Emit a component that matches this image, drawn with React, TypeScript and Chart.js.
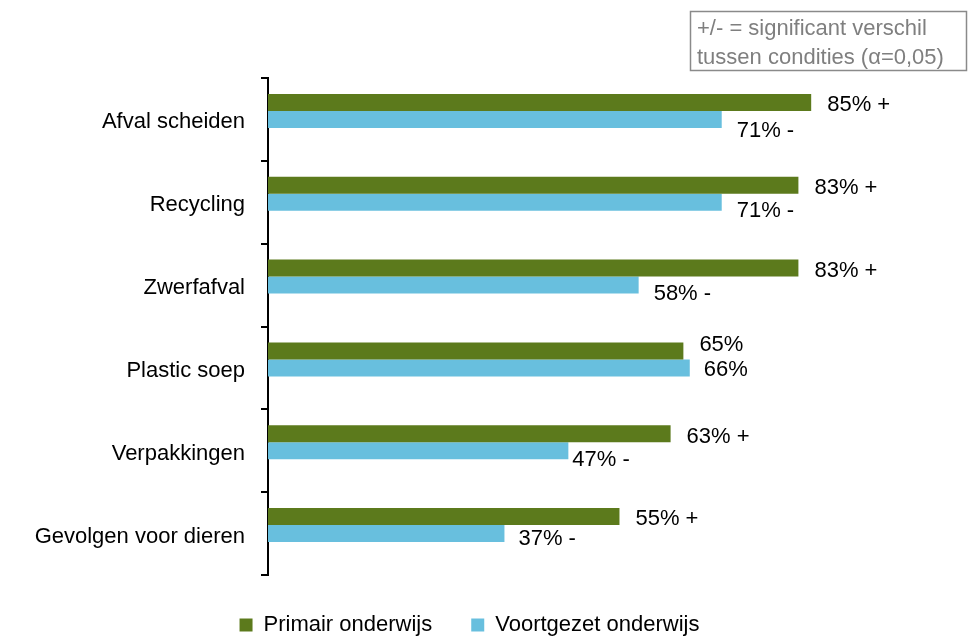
import React, { useEffect, useRef } from 'react';
import { Chart, registerables } from 'chart.js';

Chart.register(...registerables);

const categories = ['Afval scheiden', 'Recycling', 'Zwerfafval', 'Plastic soep', 'Verpakkingen', 'Gevolgen voor dieren'];
const primair = [85, 83, 83, 65, 63, 55];
const voortgezet = [71, 71, 58, 66, 47, 37];
const primairSig = ['+', '+', '+', '', '+', '+'];
const voortgezetSig = ['-', '-', '-', '', '-', '-'];
const seriesNames = ['Primair onderwijs', 'Voortgezet onderwijs'];
const noteLines = ['+/- = significant verschil', 'tussen condities (α=0,05)'];

const GREEN = '#5C7A1C';
const BLUE = '#68BFDE';
const FONT_FAMILY = '"Liberation Sans", Arial, Helvetica, sans-serif';

// label placement tweaks (dx from bar end, dy from bar centre) per dataset / category
const labelOffsets: number[][][] = [
  [[16, 3], [16, 3], [16, 3], [16, -6], [16, 3], [16, 2]],
  [[15, 12], [15, 9], [15, 9], [14, 2], [4, 9], [14, 5]],
];

const valueLabelPlugin = {
  id: 'valueLabels',
  afterDatasetsDraw(chart: any) {
    const ctx = chart.ctx;
    const sigs = [primairSig, voortgezetSig];
    ctx.save();
    ctx.font = `22px ${FONT_FAMILY}`;
    ctx.fillStyle = '#000';
    ctx.textAlign = 'left';
    ctx.textBaseline = 'middle';
    [0, 1].forEach((di) => {
      const meta = chart.getDatasetMeta(di);
      const data = chart.data.datasets[di].data as number[];
      meta.data.forEach((el: any, i: number) => {
        const v = data[i];
        if (v == null) return;
        const s = sigs[di][i];
        const txt = `${v}%` + (s ? ` ${s}` : '');
        const [dx, dy] = labelOffsets[di][i];
        ctx.fillText(txt, el.x + dx, el.y + dy);
      });
    });
    ctx.restore();
  },
};

const noteBoxPlugin = {
  id: 'noteBox',
  afterDraw(chart: any) {
    const ctx = chart.ctx;
    ctx.save();
    ctx.strokeStyle = '#8A8A8A';
    ctx.lineWidth = 1.5;
    ctx.strokeRect(690.5, 11.5, 276, 59);
    ctx.font = `22px ${FONT_FAMILY}`;
    ctx.fillStyle = '#7F7F7F';
    ctx.textAlign = 'left';
    ctx.textBaseline = 'middle';
    ctx.fillText(noteLines[0], 697, 29);
    ctx.fillText(noteLines[1], 697, 58);
    ctx.restore();
  },
};

export default function App() {
  const ref = useRef<HTMLCanvasElement | null>(null);

  useEffect(() => {
    document.body.style.margin = '0';
    const canvas = ref.current;
    if (!canvas) return;
    const font = { family: FONT_FAMILY, size: 22 };
    const chart = new Chart(canvas, {
      type: 'bar',
      data: {
        labels: categories,
        datasets: [
          { label: seriesNames[0], data: primair, backgroundColor: GREEN, borderWidth: 0 },
          { label: seriesNames[1], data: voortgezet, backgroundColor: BLUE, borderWidth: 0 },
          { label: '', data: categories.map(() => null), backgroundColor: 'rgba(0,0,0,0)', borderWidth: 0 },
        ],
      },
      options: {
        indexAxis: 'y',
        animation: false,
        responsive: false,
        devicePixelRatio: 1,
        datasets: { bar: { categoryPercentage: 0.616, barPercentage: 1.0 } },
        layout: { padding: { top: 78, right: 30, left: 0, bottom: -8 } },
        scales: {
          x: { display: false, min: 0, max: 105 },
          y: {
            grid: {
              display: true,
              drawOnChartArea: false,
              drawTicks: true,
              tickLength: 7,
              color: '#000',
              lineWidth: 2,
              offset: true,
            },
            border: { display: true, color: '#000', width: 2 },
            ticks: { color: '#000', font, padding: 16, labelOffset: 3 },
            afterFit: (s: any) => {
              s.width = 268;
            },
          },
        },
        plugins: {
          legend: {
            position: 'bottom',
            labels: {
              boxWidth: 13,
              boxHeight: 13,
              color: '#000',
              font,
              padding: 39,
              filter: (item: any) => item.datasetIndex < 2,
            },
          },
          tooltip: { enabled: false },
        },
      } as any,
      plugins: [valueLabelPlugin, noteBoxPlugin],
    });
    return () => chart.destroy();
  }, []);

  return <canvas ref={ref} width={969} height={638} style={{ display: 'block' }} />;
}
